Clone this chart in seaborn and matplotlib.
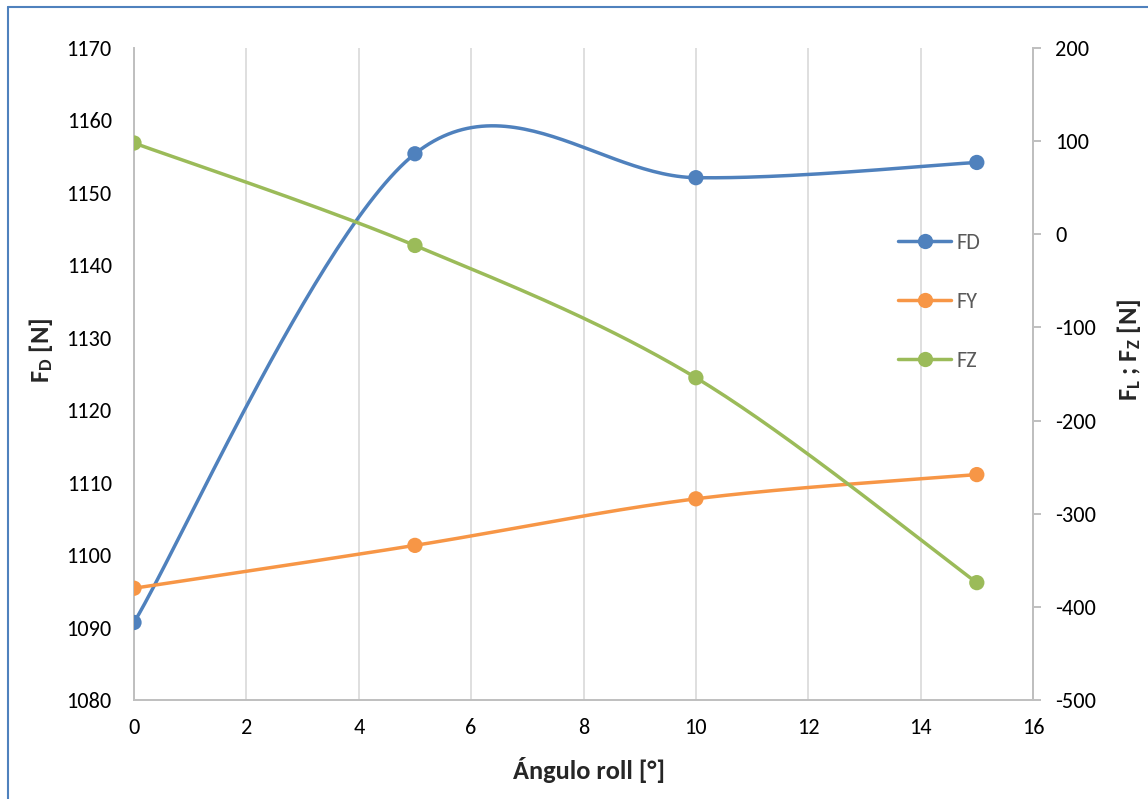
import numpy as np
import pandas as pd
import matplotlib
matplotlib.use("Agg")
import matplotlib.pyplot as plt
from matplotlib.lines import Line2D
import seaborn as sns

# ---- data ----
roll_angle = [0, 5, 10, 15]
fd_values = [1090.7, 1155.4, 1152.1, 1154.2]
fy_values = [-380.0, -334.0, -284.0, -258.0]
fz_values = [98.0, -12.0, -154.0, -374.0]
x_ticks = [0, 2, 4, 6, 8, 10, 12, 14, 16]
left_ticks = [1080, 1090, 1100, 1110, 1120, 1130, 1140, 1150, 1160, 1170]
right_ticks = [-500, -400, -300, -200, -100, 0, 100, 200]

COL_FD = "#4F81BD"
COL_FY = "#F79646"
COL_FZ = "#9BBB59"


def excel_smooth(xs, ys, n=60):
    """Catmull-Rom style Bezier smoothing like Excel's smoothed lines."""
    P = np.column_stack([xs, ys]).astype(float)
    m = len(P)
    out = []
    for i in range(m - 1):
        p0 = P[i - 1] if i > 0 else P[i]
        p1 = P[i]
        p2 = P[i + 1]
        p3 = P[i + 2] if i + 2 < m else P[i + 1]
        c1 = p1 + (p2 - p0) / 6.0
        c2 = p2 - (p3 - p1) / 6.0
        t = np.linspace(0, 1, n)[:, None]
        seg = ((1 - t) ** 3) * p1 + 3 * ((1 - t) ** 2) * t * c1 + 3 * (1 - t) * t ** 2 * c2 + t ** 3 * p2
        if i > 0:
            seg = seg[1:]
        out.append(seg)
    out = np.vstack(out)
    return pd.DataFrame({"x": out[:, 0], "y": out[:, 1]})


sns.set_theme(style="white")
plt.rcParams["font.family"] = ["Carlito", "DejaVu Sans"]
plt.rcParams["mathtext.fontset"] = "custom"
plt.rcParams["mathtext.rm"] = "Carlito"
plt.rcParams["mathtext.it"] = "Carlito:italic"
plt.rcParams["mathtext.bf"] = "Carlito:bold"
plt.rcParams["mathtext.default"] = "bf"
plt.rcParams["axes.unicode_minus"] = False

fig = plt.figure(figsize=(11.48, 7.99), dpi=100)
ax = fig.add_axes([134 / 1148, 1 - 700 / 799, (1033 - 134) / 1148, (700 - 48) / 799])
ax2 = ax.twinx()

lw = 2.5
ms = 11

# FD on left axis
fd_s = excel_smooth(roll_angle, fd_values)
sns.lineplot(data=fd_s, x="x", y="y", ax=ax, sort=False, color=COL_FD, linewidth=lw, zorder=3)
sns.scatterplot(x=roll_angle, y=fd_values, ax=ax, color=COL_FD, s=ms ** 2, edgecolor="none", zorder=4)

# FY, FZ on right axis
fy_s = excel_smooth(roll_angle, fy_values)
fz_s = excel_smooth(roll_angle, fz_values)
sns.lineplot(data=fy_s, x="x", y="y", ax=ax2, sort=False, color=COL_FY, linewidth=lw, zorder=3)
sns.scatterplot(x=roll_angle, y=fy_values, ax=ax2, color=COL_FY, s=ms ** 2, edgecolor="none", zorder=4)
sns.lineplot(data=fz_s, x="x", y="y", ax=ax2, sort=False, color=COL_FZ, linewidth=lw, zorder=3)
sns.scatterplot(x=roll_angle, y=fz_values, ax=ax2, color=COL_FZ, s=ms ** 2, edgecolor="none", zorder=4)

# axes limits and ticks
ax.set_xlim(0, 16)
ax.set_ylim(1080, 1170)
ax2.set_ylim(-500, 200)
ax.set_xticks(x_ticks)
ax.set_yticks(left_ticks)
ax2.set_yticks(right_ticks)

grid_col = "#D9D9D9"
spine_col = "#BFBFBF"
ax.xaxis.grid(True, color=grid_col, linewidth=1.2)
ax.yaxis.grid(False)
ax2.grid(False)
ax.set_axisbelow(True)

for a in (ax, ax2):
    a.spines["top"].set_visible(False)
    for s in ("left", "right", "bottom"):
        a.spines[s].set_color(spine_col)
        a.spines[s].set_linewidth(1.4)
ax2.spines["left"].set_visible(False)
ax2.spines["bottom"].set_visible(False)

ax.tick_params(axis="x", length=0, pad=13, labelsize=16, labelcolor="black")
ax.tick_params(axis="y", length=0, pad=16, labelsize=16, labelcolor="black")
ax2.tick_params(axis="y", length=6, width=1.4, color=spine_col, direction="out",
                pad=10, labelsize=16, labelcolor="black")

ax.set_xlabel("Ángulo roll [°]", fontsize=19, fontweight="bold")
ax.set_ylabel(r"$F_D$ [N]", fontsize=19, fontweight="bold")
ax2.set_ylabel(r"$F_L$ ; $F_Z$ [N]", fontsize=19, fontweight="bold", rotation=90)
ax.xaxis.set_label_coords((589 - 134) / 899, -(757 - 700) / 652)
ax.yaxis.set_label_coords(-(134 - 55) / 899, (700 - 350) / 652)
ax2.yaxis.set_label_coords((1115 - 134) / 899, (700 - 350) / 652)

# legend
handles = [
    Line2D([], [], color=COL_FD, linewidth=lw, marker="o", markersize=ms, markeredgewidth=0),
    Line2D([], [], color=COL_FY, linewidth=lw, marker="o", markersize=ms, markeredgewidth=0),
    Line2D([], [], color=COL_FZ, linewidth=lw, marker="o", markersize=ms, markeredgewidth=0),
]
leg = fig.legend(handles, ["FD", "FY", "FZ"], loc="upper left",
                 bbox_to_anchor=(898 / 1148, 1 - 233 / 799), frameon=False,
                 fontsize=16, handlelength=2.4, handletextpad=0.25, labelspacing=1.76,
                 borderpad=0, borderaxespad=0)
for t in leg.get_texts():
    t.set_color("#595959")

# chart-area border (blue)
border_col = "#4F81BD"
fig.add_artist(Line2D([8 / 1148, 8 / 1148], [0, 1 - 7 / 799], transform=fig.transFigure,
                      color=border_col, linewidth=1.5))
fig.add_artist(Line2D([8 / 1148, 1], [1 - 7 / 799, 1 - 7 / 799], transform=fig.transFigure,
                      color=border_col, linewidth=1.5))

fig.savefig("out.png", dpi=100)
